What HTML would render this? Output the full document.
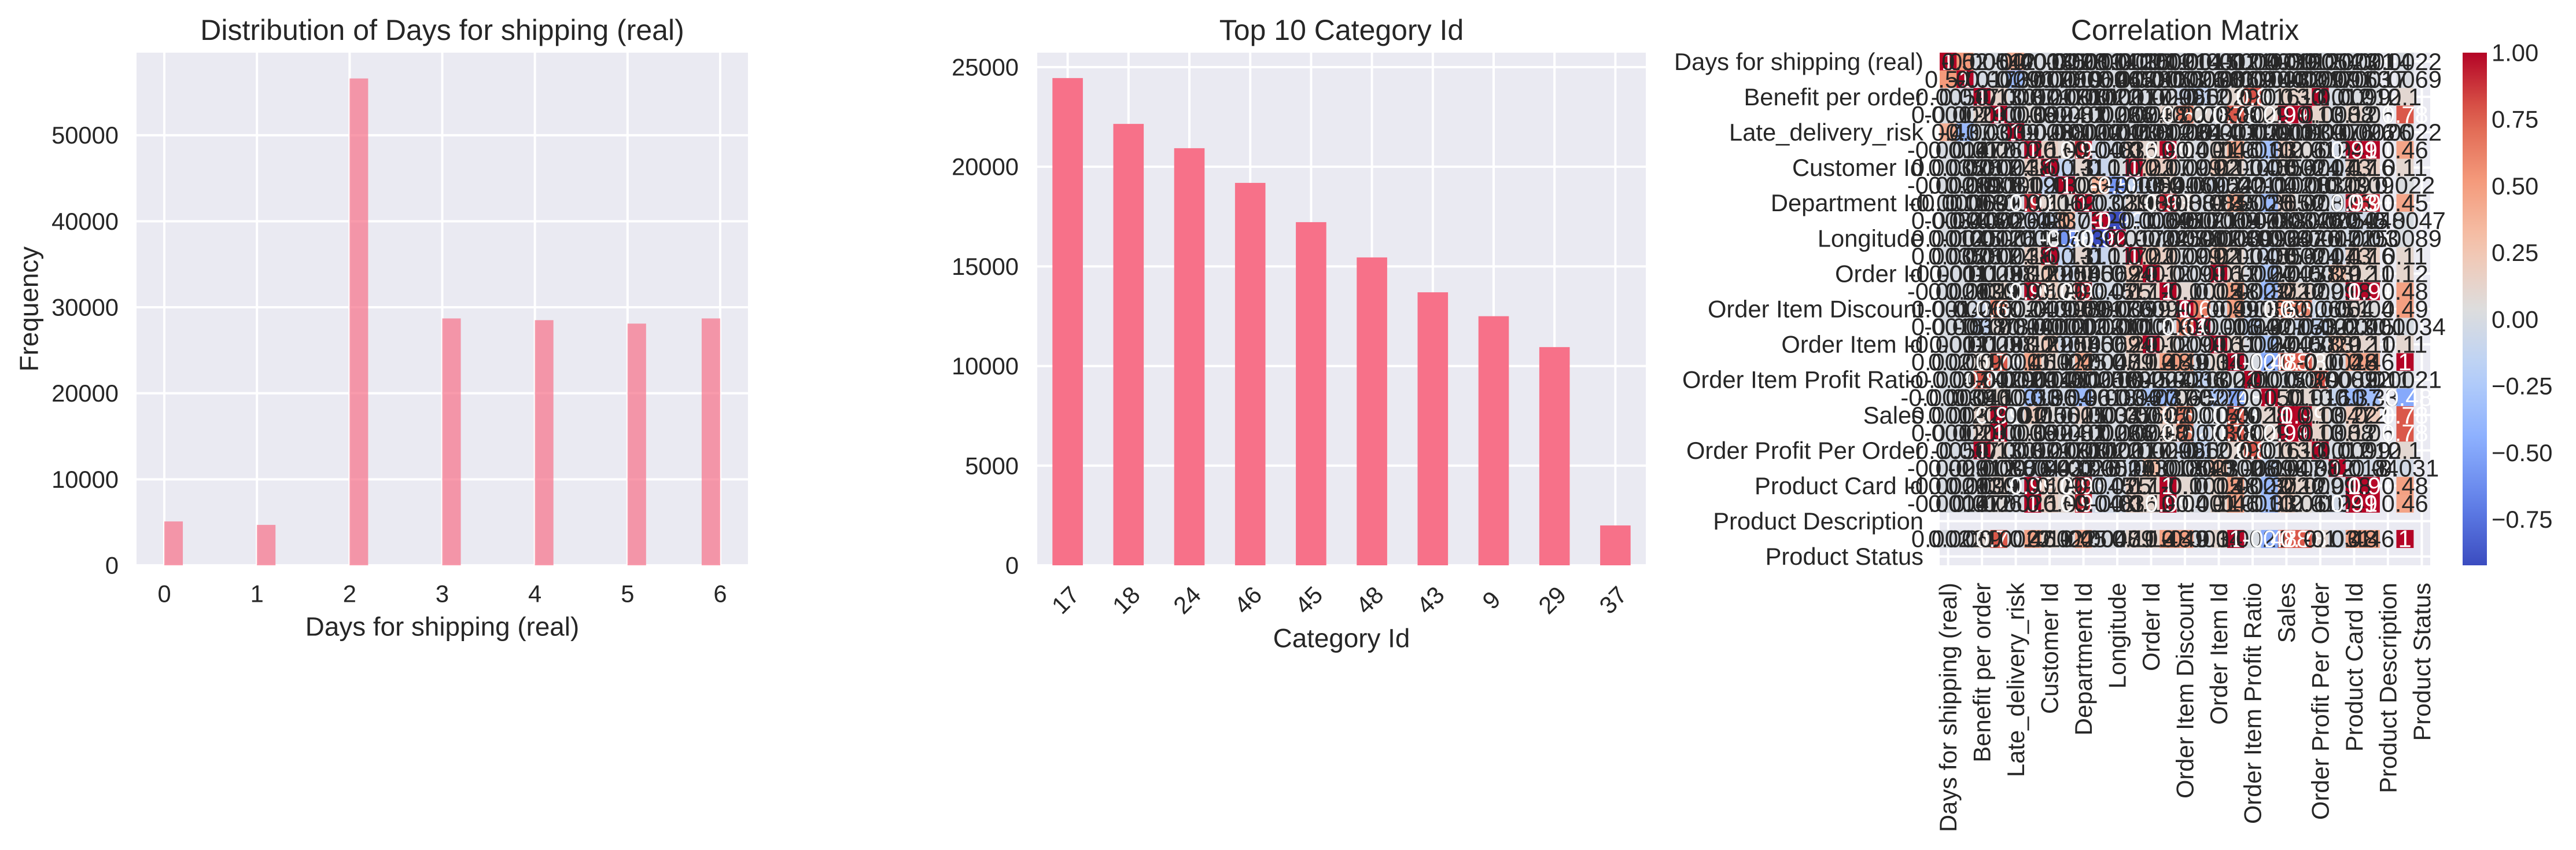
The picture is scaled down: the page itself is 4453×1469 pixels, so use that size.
<!DOCTYPE html>
<html><head><meta charset="utf-8">
<style>
html,body{margin:0;padding:0;background:#fff;}
svg{display:block;font-family:"Liberation Sans",Arial,sans-serif;}
</style></head>
<body>
<svg id="fig" width="4453" height="1469" viewBox="0 0 4453 1469" xmlns="http://www.w3.org/2000/svg">
<rect x="0" y="0" width="4453" height="1469" fill="#ffffff"/>
</svg>
<script>
// ---------- data ----------
const histDays = [0, 1, 2, 3, 4, 5, 6];
const histCounts = [5100, 4700, 56600, 28700, 28500, 28100, 28700];
const histYTicks = [0, 10000, 20000, 30000, 40000, 50000];

const catLabels = ["17", "18", "24", "46", "45", "48", "43", "9", "29", "37"];
const catCounts = [24450, 22150, 20930, 19190, 17220, 15450, 13700, 12500, 10950, 2000];
const catYTicks = [0, 5000, 10000, 15000, 20000, 25000];

const corrNames = ["Days for shipping (real)","Days for shipment (scheduled)","Benefit per order","Sales per customer","Late_delivery_risk","Category Id","Customer Id","Customer Zipcode","Department Id","Latitude","Longitude","Order Customer Id","Order Id","Order Item Cardprod Id","Order Item Discount","Order Item Discount Rate","Order Item Id","Order Item Product Price","Order Item Profit Ratio","Order Item Quantity","Sales","Order Item Total","Order Profit Per Order","Order Zipcode","Product Card Id","Product Category Id","Product Description","Product Price","Product Status"];
const N = null;
// upper-triangle rows (values for columns j > i)
const corrUpper = [
[0.52,-0.0054,0.0012,0.4,-0.0014,0.0035,-0.0028,-0.0011,0.0034,0.0012,0.0035,-0.0011,-0.0021,0.0014,0.0015,-0.0012,0.0021,-0.0047,-0.00039,0.0012,0.0012,-0.0054,-0.0023,-0.0021,-0.0014,N,0.0022,N],
[-0.017,-0.0029,-0.37,0.0017,0.0028,0.0019,0.00069,-0.0046,0.0045,0.0028,0.0011,0.0063,-0.0026,-0.0038,0.0011,0.0069,-0.0014,-0.00041,0.0032,-0.0029,-0.017,0.0091,0.0063,0.0017,N,0.0069,N],
[0.13,-0.0037,0.012,0.0017,0.0031,0.0081,-0.0022,-0.0017,0.0017,-0.0029,0.0099,-0.065,-0.12,-0.0029,0.1,0.8,0.016,0.13,0.13,1,-0.012,0.0099,0.012,N,0.1,N],
[-0.0039,0.06,0.0024,-0.0081,0.02,-0.0026,0.0026,0.0024,0.0038,0.12,0.62,0.078,0.0038,0.78,0.0029,0.1,0.99,1,0.13,0.0088,0.12,0.06,N,0.78,N],
[-0.0026,0.0038,-0.0012,-0.0012,-0.00012,0.0011,0.0038,-0.0012,-0.0026,0.0024,0.0014,-0.0012,0.0011,-0.0029,-0.00018,-0.0011,-0.0039,-0.0037,0.0076,-0.0026,-0.0026,N,0.0022,N],
[0.16,0.09,0.91,-0.048,-0.03,0.16,0.11,0.99,0.04,-0.001,0.11,0.46,-0.0011,-0.33,0.2,0.06,0.012,-0.04,0.99,1,N,0.46,N],
[-0.13,0.11,-0.1,0.017,1,0.22,0.17,0.0099,0.0012,0.22,0.11,0.0045,-0.06,0.056,0.0024,0.0017,-0.043,0.17,0.16,N,0.11,N],
[0.062,0.37,-0.58,-0.13,-0.054,0.091,-0.0069,-0.0012,-0.054,0.022,0.0011,-0.04,-0.0021,-0.0081,0.0031,0.023,0.091,0.09,N,0.022,N],
[-0.032,-0.039,0.11,0.085,0.93,0.088,-0.0013,0.085,0.45,-0.0025,-0.36,0.15,0.02,0.0081,-0.026,0.93,0.91,N,0.45,N],
[-0.92,-0.1,-0.0069,-0.045,0.0017,0.0021,-0.0069,-0.0047,-0.0018,0.0018,-0.0034,-0.0026,-0.0022,-0.0051,-0.045,-0.048,N,-0.0047,N],
[0.017,0.0024,-0.025,0.0036,0.0011,0.0024,0.0089,-0.00092,-0.0034,0.0037,0.0026,-0.0017,0.0021,-0.025,-0.03,N,0.0089,N],
[0.22,0.17,0.0099,0.0012,0.22,0.11,0.0045,-0.06,0.056,0.0024,0.0017,-0.043,0.17,0.16,N,0.11,N],
[0.12,-0.0099,-0.0016,1,0.12,-0.0024,-0.27,0.0045,0.0038,-0.0029,0.3,0.12,0.11,N,0.12,N],
[0.1,-0.0015,0.12,0.48,0.0022,-0.37,0.22,0.12,0.0099,-0.018,1,0.99,N,0.48,N],
[0.64,-0.0099,0.49,-0.0036,0.065,0.62,0.62,-0.065,0.0054,0.1,0.04,N,0.49,N],
[-0.0016,-0.0034,-0.13,0.0027,0.0015,-0.073,-0.12,0.0023,-0.0015,-0.001,N,-0.0034,N],
[0.11,-0.0024,-0.27,0.0045,0.0038,-0.0029,0.3,0.12,0.11,N,0.11,N],
[0.0021,-0.48,0.78,0.78,0.1,-0.0026,0.48,0.46,N,1,N],
[0.0015,0.0028,0.0029,0.8,-0.0089,0.0022,-0.0011,N,0.0021,N],
[0.11,0.1,0.016,-0.11,-0.37,-0.33,N,-0.48,N],
[0.99,0.13,0.0047,0.22,0.2,N,0.78,N],
[0.13,0.0088,0.12,0.06,N,0.78,N],
[-0.012,0.0099,0.012,N,0.1,N],
[-0.018,-0.04,N,-0.031,N],
[0.99,N,0.48,N],
[N,0.46,N],
[N,N],
[N]
];
const corrDiag = [1,1,1,1,1,1,1,1,1,1,1,1,1,1,1,1,1,1,1,1,1,1,1,1,1,1,N,1,N];
const cbarTicks = [1.0, 0.75, 0.5, 0.25, 0.0, -0.25, -0.5, -0.75];
const cbarMin = -0.922, cbarMax = 1.0;

// ---------- helpers ----------
const NS = "http://www.w3.org/2000/svg";
const svg = document.getElementById("fig");
function el(tag, attrs, parent, text) {
  const e = document.createElementNS(NS, tag);
  for (const k in attrs) e.setAttribute(k, attrs[k]);
  if (text !== undefined) e.textContent = text;
  (parent || svg).appendChild(e);
  return e;
}
const TXT = "#262626", BG = "#eaeaf2";
const FT = 41.7, FL = 45.8, FTT = 50;

// ---------- panel 1: histogram ----------
(function () {
  const L = 236, R = 1293, T = 91, B = 977;
  const xmin = -0.3, xmax = 6.3, ymax = 59600;
  const xs = v => L + (v - xmin) / (xmax - xmin) * (R - L);
  const ys = v => B - v / ymax * (B - T);
  const g = el("g", {});
  
  
  const bg = el("rect", {x: L, y: T, width: R - L, height: B - T, fill: BG}, g);
  
  
  histYTicks.forEach(t => {
    const ln = el("line", {x1: L, x2: R, y1: ys(t), y2: ys(t), stroke: "#fff", "stroke-width": 4}, g);
    
    
    const tx = el("text", {x: 205, y: ys(t), "font-size": FT, fill: TXT, "text-anchor": "end", "dominant-baseline": "central"}, g, String(t));
    
    
  });
  histDays.forEach(d => {
    const ln = el("line", {x1: xs(d), x2: xs(d), y1: T, y2: B, stroke: "#fff", "stroke-width": 4}, g);
    
    
    const tx = el("text", {x: xs(d), y: 1026, "font-size": FT, fill: TXT, "text-anchor": "middle", "dominant-baseline": "central"}, g, String(d));
    
    
  });
  histDays.forEach((d, i) => {
    const x0 = d === 6 ? xs(5.8) : xs(d), x1 = d === 6 ? xs(6) : xs(d + 0.2);
    const r = el("rect", {x: x0, y: ys(histCounts[i]), width: x1 - x0, height: B - ys(histCounts[i]), fill: "#f77189", "fill-opacity": 0.7}, g);
    
    
  });
  const t1 = el("text", {x: (L + R) / 2, y: 52, "font-size": FTT, fill: TXT, "text-anchor": "middle", "dominant-baseline": "central"}, g, "Distribution of Days for shipping (real)");
  
  
  const xl = el("text", {x: (L + R) / 2, y: 1083, "font-size": FL, fill: TXT, "text-anchor": "middle", "dominant-baseline": "central"}, g, "Days for shipping (real)");
  
  
  const yl = el("text", {x: 0, y: 0, "font-size": FL, fill: TXT, "text-anchor": "middle", "dominant-baseline": "central", transform: "translate(50,534) rotate(-90)"}, g, "Frequency");
  
  
})();

// ---------- panel 2: bar chart ----------
(function () {
  const L = 1793, R = 2845, T = 91, B = 977;
  const ymax = 25725;
  const n = catLabels.length;
  const xs = i => L + (i + 0.5) / n * (R - L);
  const ys = v => B - v / ymax * (B - T);
  const g = el("g", {});
  
  
  const bg = el("rect", {x: L, y: T, width: R - L, height: B - T, fill: BG}, g);
  
  
  catYTicks.forEach(t => {
    const ln = el("line", {x1: L, x2: R, y1: ys(t), y2: ys(t), stroke: "#fff", "stroke-width": 4}, g);
    
    
    const tx = el("text", {x: 1761, y: ys(t), "font-size": FT, fill: TXT, "text-anchor": "end", "dominant-baseline": "central"}, g, String(t));
    
    
  });
  catLabels.forEach((c, i) => {
    const ln = el("line", {x1: xs(i), x2: xs(i), y1: T, y2: B, stroke: "#fff", "stroke-width": 4}, g);
    
    
  });
  catLabels.forEach((c, i) => {
    const bw = 0.5 / n * (R - L);
    const r = el("rect", {x: xs(i) - bw / 2, y: ys(catCounts[i]), width: bw, height: B - ys(catCounts[i]), fill: "#f77189"}, g);
    
    
    const tx = el("text", {x: 0, y: 0, "font-size": FT, fill: TXT, "text-anchor": "middle", "dominant-baseline": "central", transform: "translate(" + (xs(i) - 4) + ",1037) rotate(-45)"}, g, c);
    
    
  });
  const t2 = el("text", {x: (L + R) / 2, y: 52, "font-size": FTT, fill: TXT, "text-anchor": "middle", "dominant-baseline": "central"}, g, "Top 10 Category Id");
  
  
  const xl = el("text", {x: (L + R) / 2, y: 1103, "font-size": FL, fill: TXT, "text-anchor": "middle", "dominant-baseline": "central"}, g, "Category Id");
  
  
})();

// ---------- panel 3: correlation heatmap ----------
const CW = [[0,59,76,192],[0.125,98,130,234],[0.25,141,176,254],[0.375,184,208,249],[0.5,221,221,221],[0.625,245,196,173],[0.75,244,154,123],[0.875,222,96,77],[1,180,4,38]];
function cmap(t) {
  t = Math.max(0, Math.min(1, t));
  for (let k = 1; k < CW.length; k++) {
    if (t <= CW[k][0]) {
      const a = CW[k - 1], b = CW[k], f = (t - a[0]) / (b[0] - a[0]);
      return [a[1] + f * (b[1] - a[1]), a[2] + f * (b[2] - a[2]), a[3] + f * (b[3] - a[3])];
    }
  }
  return CW[CW.length - 1].slice(1);
}
function lum(c) {
  const f = x => { x /= 255; return x <= 0.03928 ? x / 12.92 : Math.pow((x + 0.055) / 1.055, 2.4); };
  return 0.2126 * f(c[0]) + 0.7152 * f(c[1]) + 0.0722 * f(c[2]);
}
function fmt(v) { return String(Number(v.toPrecision(2))); }
(function () {
  const L = 3353, R = 4201, T = 91, B = 977;
  const n = corrNames.length;
  const cw = (R - L) / n, ch = (B - T) / n;
  const M = [];
  for (let i = 0; i < n; i++) { M.push(new Array(n).fill(N)); M[i][i] = corrDiag[i]; }
  corrUpper.forEach((row, i) => {
    row.forEach((v, k) => { const j = n - row.length + k; M[i][j] = v; M[j][i] = v; });
  });
  const g = el("g", {});
  
  
  const bg = el("rect", {x: L, y: T, width: R - L, height: B - T, fill: BG}, g);
  
  
  for (let i = 0; i < n; i += 2) {
    const a = el("line", {x1: L, x2: R, y1: T + (i + 0.5) * ch, y2: T + (i + 0.5) * ch, stroke: "#fff", "stroke-width": 4}, g);
    
    
    const b = el("line", {y1: T, y2: B, x1: L + (i + 0.5) * cw, x2: L + (i + 0.5) * cw, stroke: "#fff", "stroke-width": 4}, g);
    
    
  }
  const cells = el("g", {}, g);
  const texts = el("g", {}, g);
  for (let i = 0; i < n; i++) for (let j = 0; j < n; j++) {
    const v = M[i][j];
    if (v === null) continue;
    const c = cmap((v - cbarMin) / (cbarMax - cbarMin));
    const r = el("rect", {x: L + j * cw, y: T + i * ch, width: cw + 0.6, height: ch + 0.6, fill: "rgb(" + c.map(Math.round).join(",") + ")"}, cells);
    
    
    const tx = el("text", {x: L + (j + 0.5) * cw, y: T + (i + 0.5) * ch, "font-size": FT, fill: lum(c) < 0.408 ? "#ffffff" : TXT, "text-anchor": "middle", "dominant-baseline": "central"}, texts, fmt(v));
    
    
  }
  for (let i = 0; i < n; i += 2) {
    const yl = el("text", {x: 3325, y: T + (i + 0.5) * ch, "font-size": FT, fill: TXT, "text-anchor": "end", "dominant-baseline": "central"}, g, corrNames[i]);
    
    
    const xl = el("text", {x: 0, y: 0, "font-size": FT, fill: TXT, "text-anchor": "end", "dominant-baseline": "central", transform: "translate(" + (L + (i + 0.5) * cw) + ",1007) rotate(-90)"}, g, corrNames[i]);
    
    
  }
  const t3 = el("text", {x: (L + R) / 2, y: 52, "font-size": FTT, fill: TXT, "text-anchor": "middle", "dominant-baseline": "central"}, g, "Correlation Matrix");
  
  

  // colorbar
  const CL = 4257, CR = 4299;
  const cy = v => B - (v - cbarMin) / (cbarMax - cbarMin) * (B - T);
  const defs = el("defs", {}, g);
  const grad = el("linearGradient", {id: "cwgrad", x1: 0, y1: 1, x2: 0, y2: 0}, defs);
  for (let k = 0; k <= 20; k++) {
    const c = cmap(k / 20);
    el("stop", {offset: (k / 20), "stop-color": "rgb(" + c.map(Math.round).join(",") + ")"}, grad);
  }
  const cb = el("rect", {x: CL, y: T, width: CR - CL, height: B - T, fill: "url(#cwgrad)"}, g);
  
  
  cbarTicks.forEach(t => {
    const s = (t < 0 ? "\u2212" : "") + Math.abs(t).toFixed(2);
    const tx = el("text", {x: 4307, y: cy(t), "font-size": FT, fill: TXT, "text-anchor": "start", "dominant-baseline": "central"}, g, s);
    
    
  });
})();
</script>
</body></html>
